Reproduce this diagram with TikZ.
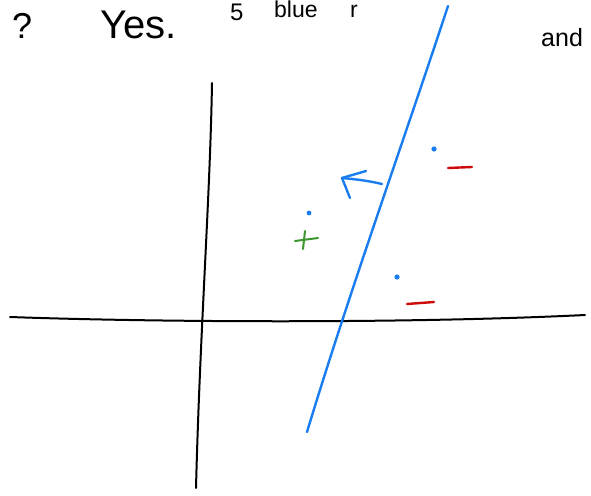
\documentclass[tikz,border=0pt]{standalone}
\usepackage{fontspec}
\setmainfont{Liberation Sans}
\definecolor{penblue}{RGB}{25,125,240}
\definecolor{pengreen}{RGB}{60,150,45}
\definecolor{penred}{RGB}{205,10,10}
\begin{document}
\begin{tikzpicture}[x=1pt,y=-1pt,
  axis/.style={line width=2pt,black,line cap=round,line join=round},
  sep/.style={line width=2.4pt,penblue,line cap=round,line join=round},
  dotpt/.style={fill=penblue,draw=none},
  hw/.style={inner sep=0pt,anchor=base west,font=\fontsize{#1}{#1}\selectfont}]
\clip (0,0) rectangle (591,495);
\fill[white] (0,0) rectangle (591,495);
% texts
\node[hw=36] (q) at (12,38) {?};
\node[hw=40] (yes) at (100,38) {Yes.};
\node[hw=24] (five) at (230,21) {5};
\node[hw=23] (blue) at (274,18) {blue};
\node[hw=23] (r) at (350,18) {r};
\node[hw=25] (and) at (541,47) {and};
% axes
\coordinate (vt) at (212,83);
\coordinate (vb) at (196,488);
\coordinate (hl) at (10,317);
\coordinate (hr) at (585,315);
\draw[axis] (vt) .. controls (210,200) and (200,330) .. (vb);
\draw[axis] (hl) .. controls (150,322) and (400,324) .. (hr);
% separator line
\coordinate (st) at (448,6);
\coordinate (sb) at (307,432);
\coordinate (ab) at (382,184);
\coordinate (ah) at (342,178);
\draw[sep] (st) .. controls (404,140) and (350,290) .. (sb);
\draw[sep] (ab) .. controls (365,180) and (352,179) .. (ah);
\coordinate (au) at (366,171);
\coordinate (al) at (350,198);
\draw[sep] (au) -- (ah) -- (al);
% points
\fill[dotpt] (434,149) circle (2.6);
\fill[dotpt] (309,213) circle (2.4);
\fill[dotpt] (397,277) circle (2.6);
% labels
\coordinate (p1) at (295,241); \coordinate (p2) at (318,238);
\coordinate (p3) at (305,231); \coordinate (p4) at (303,249);
\draw[pengreen,line width=2pt,line cap=round] (p1) -- (p2);
\draw[pengreen,line width=2pt,line cap=round] (p3) -- (p4);
\coordinate (m1) at (448,168); \coordinate (m2) at (472,167);
\coordinate (m3) at (407,304); \coordinate (m4) at (434,302);
\draw[penred,line width=2.4pt,line cap=round] (m1) -- (m2);
\draw[penred,line width=2.4pt,line cap=round] (m3) -- (m4);
\end{tikzpicture}
\end{document}
